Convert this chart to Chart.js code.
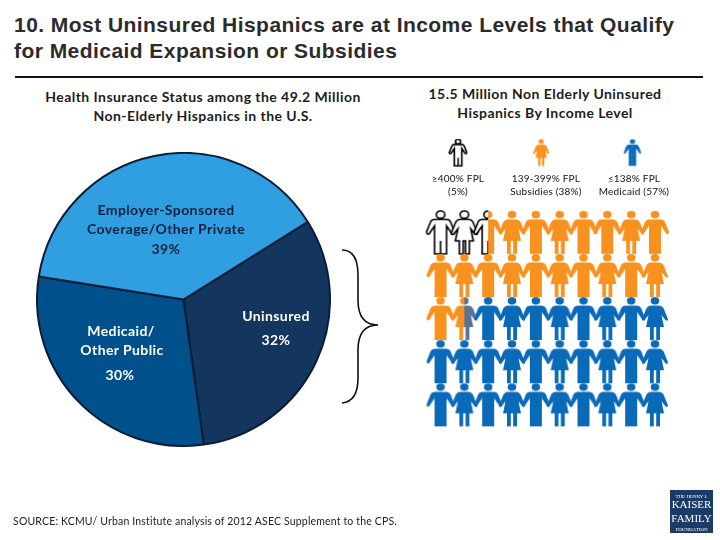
<!DOCTYPE html>
<html lang="en">
<head>
    <meta charset="UTF-8">
    <title>Most Uninsured Hispanics</title>
    <style>
        html, body { margin: 0; padding: 0; background: #fff; }
        body { width: 720px; height: 540px; position: relative; overflow: hidden; font-family: Lato, sans-serif; }
        canvas { position: absolute; }
        .t { position: absolute; white-space: nowrap; transform: translate(-50%, -50%); line-height: 1; }
        .title { position: absolute; left: 14px; font: bold 21px "Liberation Sans", Arial, sans-serif; color: #2b2b2b; white-space: nowrap; letter-spacing: 0.45px; transform: translateY(-50%); line-height: 1; }
        .head { font-size: 14px; font-weight: 700; color: #1c1c1c; letter-spacing: 0.45px; }
        .leg { font-size: 10px; font-weight: 400; color: #111; letter-spacing: 0.2px; }
        .pie { font-size: 14px; font-weight: 700; letter-spacing: 0.4px; }
        .dark { color: #10203c; }
        .light { color: #fff; }
        #rule { position: absolute; left: 15px; top: 76px; width: 688px; height: 2px; background: #111; }
        #brace { position: absolute; left: 0; top: 0; }
        #logo { position: absolute; left: 670px; top: 490px; width: 43px; height: 43px; background: #1b3a68; color: #fff; font-family: "Liberation Serif", serif; }
    </style>
    <script src="https://cdn.jsdelivr.net/npm/chart.js"></script>
</head>
<body>
    <div class="title" style="top:24px">10. Most Uninsured Hispanics are at Income Levels that Qualify</div>
    <div class="title" style="top:50px">for Medicaid Expansion or Subsidies</div>
    <div id="rule"></div>

    <div class="t head" style="left:203px;top:97px">Health Insurance Status among the 49.2 Million</div>
    <div class="t head" style="left:203px;top:116px">Non-Elderly Hispanics in the U.S.</div>
    <div class="t head" style="left:545px;top:94px">15.5 Million Non Elderly Uninsured</div>
    <div class="t head" style="left:545px;top:113px">Hispanics By Income Level</div>

    <canvas id="pieChart" width="295" height="295" style="left:36px;top:152px"></canvas>
    <canvas id="peopleChart" width="320" height="320" style="left:400px;top:130px"></canvas>

    <div class="t pie dark" style="left:166px;top:210px">Employer-Sponsored</div>
    <div class="t pie dark" style="left:166px;top:229px">Coverage/Other Private</div>
    <div class="t pie dark" style="left:166px;top:249px">39%</div>
    <div class="t pie light" style="left:121px;top:331px">Medicaid/</div>
    <div class="t pie light" style="left:122px;top:350px">Other Public</div>
    <div class="t pie light" style="left:120px;top:375px">30%</div>
    <div class="t pie light" style="left:276px;top:316px">Uninsured</div>
    <div class="t pie light" style="left:276px;top:340px">32%</div>

    <svg id="brace" width="720" height="540">
        <path d="M342 250 C353 250 358 258 358 275 L358 300 C358 316 364 325 378 325 C364 325 358 334 358 350 L358 378 C358 394 353 402 342 403" fill="none" stroke="#111" stroke-width="1.6"/>
    </svg>

    <div class="t leg" style="left:458px;top:178px">≥400% FPL</div>
    <div class="t leg" style="left:458px;top:191px">(5%)</div>
    <div class="t leg" style="left:546px;top:178px">139-399% FPL</div>
    <div class="t leg" style="left:546px;top:191px">Subsidies (38%)</div>
    <div class="t leg" style="left:634px;top:178px">≤138% FPL</div>
    <div class="t leg" style="left:634px;top:191px">Medicaid (57%)</div>

    <div class="t" style="left:205px;top:521px;font-size:10.5px;letter-spacing:0.16px;color:#222">SOURCE: KCMU/ Urban Institute analysis of 2012 ASEC Supplement to the CPS.</div>

    <div id="logo">
        <div class="t" style="left:21.5px;top:6px;font-size:5px">THE HENRY J.</div>
        <div class="t" style="left:21.5px;top:14px;font-size:11px">KAISER</div>
        <div class="t" style="left:21.5px;top:28px;font-size:11px">FAMILY</div>
        <div class="t" style="left:21.5px;top:39px;font-size:5px">FOUNDATION</div>
    </div>

    <script>
        // pie data, starts at the uninsured slice and goes clockwise
        const coverageLabels = ['Uninsured', 'Medicaid/Other Public', 'Employer-Sponsored Coverage/Other Private'];
        const coverageValues = [32, 30, 39];
        const coverageColours = ['#14365e', '#00508c', '#2f9fe2'];

        // people chart: 50 figures split by income share
        const incomeLabels = ['>=400% FPL', '139-399% FPL', '<=138% FPL'];
        const incomeShares = [5, 38, 57];
        const incomeColours = ['#ffffff', '#f8911e', '#0a6aba'];
        const rowSexes = ['MFMFMFMMFM', 'MFMFMFMFMF', 'MFMFMFMFMF', 'MFMFMFMFMF', 'MFMFMFMFMF'];
        const legendSexes = ['M', 'F', 'M'];
        const legendCols = [1.74, 5.23, 9.06];
        const legendRow = -0.85;
        const blendColour = '#5a7198';

        function personPath(ctx, sex) {
            ctx.beginPath();
            ctx.ellipse(0, 3.7, 4.3, 3.7, 0, 0, Math.PI * 2);
            ctx.closePath();
            if (sex === 'M') {
                ctx.moveTo(-6, 8.5);
                ctx.lineTo(6, 8.5);
                ctx.quadraticCurveTo(9, 8.5, 10, 11);
                ctx.lineTo(14, 21);
                ctx.quadraticCurveTo(14, 24, 11.5, 23);
                ctx.lineTo(6, 15);
                ctx.lineTo(6, 43);
                ctx.lineTo(-6, 43);
                ctx.lineTo(-6, 15);
                ctx.lineTo(-11.5, 23);
                ctx.quadraticCurveTo(-14, 24, -14, 21);
                ctx.lineTo(-10, 11);
                ctx.quadraticCurveTo(-9, 8.5, -6, 8.5);
            } else {
                ctx.moveTo(-4.5, 8.5);
                ctx.lineTo(4.5, 8.5);
                ctx.quadraticCurveTo(7, 8.5, 8.5, 11);
                ctx.lineTo(13, 22);
                ctx.quadraticCurveTo(13, 24.5, 10.5, 23);
                ctx.lineTo(6.5, 18);
                ctx.lineTo(9, 30);
                ctx.lineTo(5, 30);
                ctx.lineTo(5, 43);
                ctx.lineTo(1.2, 43);
                ctx.lineTo(1.2, 30);
                ctx.lineTo(-1.2, 30);
                ctx.lineTo(-1.2, 43);
                ctx.lineTo(-5, 43);
                ctx.lineTo(-5, 30);
                ctx.lineTo(-9, 30);
                ctx.lineTo(-6.5, 18);
                ctx.lineTo(-10.5, 23);
                ctx.quadraticCurveTo(-13, 24.5, -13, 22);
                ctx.lineTo(-8.5, 11);
                ctx.quadraticCurveTo(-7, 8.5, -4.5, 8.5);
            }
            ctx.closePath();
        }

        function paintPerson(ctx, sex, colour, scale) {
            personPath(ctx, sex);
            ctx.fillStyle = colour;
            ctx.fill();
            if (colour === '#ffffff') {
                ctx.strokeStyle = '#000';
                ctx.lineWidth = 1.6 / scale;
                ctx.stroke();
                if (sex === 'M') {
                    ctx.beginPath();
                    ctx.moveTo(0, 30);
                    ctx.lineTo(0, 43);
                    ctx.stroke();
                }
            }
        }

        // returns a small canvas that chart.js uses as the point style
        function personImage(sex, left, right, scale) {
            const c = document.createElement('canvas');
            c.width = Math.round(32 * scale);
            c.height = Math.round(46 * scale);
            const ctx = c.getContext('2d');
            ctx.scale(scale, scale);
            ctx.translate(16, 1);
            ctx.save();
            ctx.beginPath();
            ctx.rect(-16, -1, 16, 46);
            ctx.clip();
            paintPerson(ctx, sex, left, scale);
            ctx.restore();
            ctx.save();
            ctx.beginPath();
            ctx.rect(0, -1, 16, 46);
            ctx.clip();
            paintPerson(ctx, sex, right, scale);
            ctx.restore();
            return c;
        }

        // walk through the 50 figures and colour them from the shares
        function buildPeople() {
            const points = [];
            const styles = [];
            const ends = [];
            let sum = 0;
            incomeShares.forEach(s => { sum += s / 2; ends.push(sum); });
            rowSexes.forEach((sexes, r) => {
                for (let c = 0; c < sexes.length; c++) {
                    const i = r * sexes.length + c;
                    const band = ends.findIndex(e => e > i);
                    const left = incomeColours[band];
                    const nextBand = ends.findIndex(e => e > i + 0.5);
                    let right = incomeColours[nextBand];
                    if (left === incomeColours[1] && right === incomeColours[2]) right = blendColour;
                    points.push({ x: c + 1, y: r + 1 });
                    styles.push(personImage(sexes[c], left, right, 1));
                }
            });
            incomeColours.forEach((col, i) => {
                points.push({ x: legendCols[i], y: legendRow });
                styles.push(personImage(legendSexes[i], col, col, 0.62));
            });
            return { points, styles };
        }

        new Chart(document.getElementById('pieChart'), {
            type: 'pie',
            data: {
                labels: coverageLabels,
                datasets: [{
                    data: coverageValues,
                    backgroundColor: coverageColours,
                    borderColor: '#0b1d38',
                    borderWidth: 2,
                    borderAlign: 'center'
                }]
            },
            options: {
                responsive: false,
                animation: false,
                rotation: 58,
                layout: { padding: 0 },
                plugins: { legend: { display: false }, tooltip: { enabled: false } }
            }
        });

        const people = buildPeople();
        new Chart(document.getElementById('peopleChart'), {
            type: 'scatter',
            data: {
                datasets: [{
                    data: people.points,
                    pointStyle: people.styles,
                    clip: false
                }]
            },
            options: {
                responsive: false,
                animation: false,
                layout: { padding: 0 },
                scales: {
                    x: { type: 'linear', display: false, min: -0.49, max: 12.52 },
                    y: { type: 'linear', display: false, reverse: true, min: -1.27, max: 5.92 }
                },
                plugins: { legend: { display: false }, tooltip: { enabled: false } }
            }
        });
    </script>
</body>
</html>
